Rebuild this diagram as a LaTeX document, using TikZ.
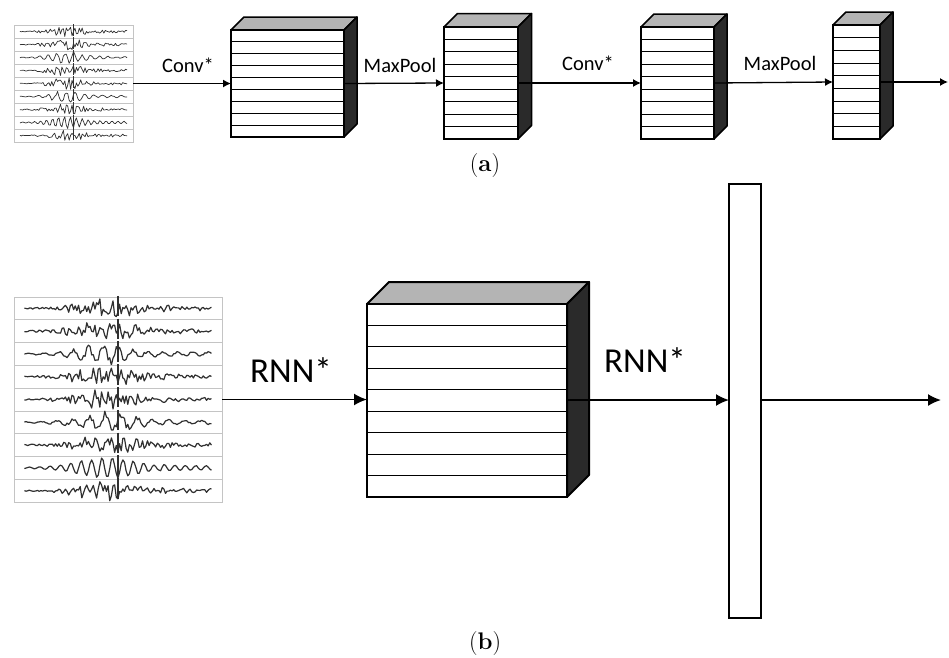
\documentclass[tikz,border=0pt]{standalone}
\usepackage{fontspec}
\newfontfamily\lblfont{Carlito}
\usetikzlibrary{arrows.meta}
\definecolor{topgray}{HTML}{B4B4B4}
\definecolor{sidegray}{HTML}{2A2A2A}
\definecolor{framegray}{HTML}{C4C4C4}
\definecolor{sigcol}{HTML}{303030}
\tikzset{
  lbl/.style={font=\lblfont\fontsize{20.5}{23}\selectfont, inner sep=0},
  biglbl/.style={font=\lblfont\fontsize{35}{40}\selectfont, inner sep=0},
  captext/.style={font=\fontsize{24}{28}\selectfont, inner sep=0},
  conn/.style={line width=1.3pt, -{Latex[length=8pt,width=8pt]}},
  bigconn/.style={line width=1.8pt, -{Latex[length=13pt,width=12pt]}},
}
% layer box: name, x1, y1, x2, y2, depth, outline width
\newcommand\layerbox[7]{%
  \pgfmathsetmacro\lbw{#4-#2}\pgfmathsetmacro\lbh{#5-#3}%
  \fill[topgray,draw=black,line width=#7,line join=round] (#2,#3) -- ({#2+#6},{#3-#6}) -- ({#4+#6},{#3-#6}) -- (#4,#3) -- cycle;
  \fill[sidegray,draw=black,line width=#7,line join=round] (#4,#3) -- ({#4+#6},{#3-#6}) -- ({#4+#6},{#5-#6}) -- (#4,#5) -- cycle;
  \node[draw, fill=white, line width=#7, minimum width=\lbw pt, minimum height=\lbh pt, inner sep=0, outer sep=0, anchor=north west] (#1) at (#2,#3) {};
  \foreach \k in {1,...,8} {
    \draw[line width=0.9pt] (#2,{#3+\k*(#5-#3)/9}) -- (#4,{#3+\k*(#5-#3)/9});
  }
}
% signal panel: name, x0, y0, w, h, line width, samples
\newcommand\sigpanel[7]{%
  \node[draw=framegray, line width=0.7pt, minimum width=#4pt, minimum height=#5pt, inner sep=0, outer sep=0, anchor=north west] (#1) at (#2,#3) {};
  \foreach \r/\fr/\rw in {0/30/0.7,1/26/0.8,2/14/0.35,3/34/0.85,4/28/0.75,5/13/0.35,6/40/0.85,7/20/0.1,8/30/0.6} {
    \pgfmathsetmacro\yc{#3+(\r+0.5)*#5/9}
    \pgfmathsetmacro\amp{0.5*#5/9}
    \ifnum\r>0 \draw[framegray, line width=0.7pt] (#2,{#3+\r*#5/9}) -- ({#2+#4},{#3+\r*#5/9}); \fi
    \draw[sigcol, line width=#6, line join=round] plot[domain=0.05:0.95, samples=#7]
      ({#2+\x*#4}, {\yc - \amp*(0.06+0.94*exp(-((\x-0.45)/0.19)^2)+0.15*(\x>0.7))*((1-\rw)*sin(\fr*\x*360+\r*40)+\rw*rand)});
    \draw[sigcol, line width=#6] ({#2+0.5*#4},{\yc-0.55*#5/9}) -- ({#2+0.5*#4},{\yc+0.35*#5/9});
  }
}
\begin{document}
\begin{tikzpicture}[x=1pt,y=-1pt]
\pgfmathsetseed{11}
\useasboundingbox (0,0) rectangle (949,657);
% ---------- (a) ----------
\sigpanel{sa}{14}{25}{119}{117}{0.7pt}{75}
\layerbox{a1}{231}{30}{344}{137}{13}{1.5pt}
\layerbox{a2}{444}{27}{518}{139}{13.5}{1.5pt}
\layerbox{a3}{641}{27}{714}{139}{13}{1.5pt}
\layerbox{a4}{833}{25}{880}{139}{13}{1.5pt}
\coordinate (aend) at (948,82);
\draw[conn] (sa.east) -- (a1.west);
\draw[conn] (a1.east) -- (a2.west);
\draw[conn] (a2.east) -- (a3.west);
\draw[conn] (a3.east) -- (a4.west);
\draw[conn] (a4.east) -- (aend);
\node[lbl] (l1) at (188,65) {Conv*};
\node[lbl] (l2) at (400,65) {MaxPool};
\node[lbl] (l3) at (588,63) {Conv*};
\node[lbl] (l4) at (780,63) {MaxPool};
\node[captext] (capa) at (485,166) {(\textbf{a})};
% ---------- (b) ----------
\sigpanel{sb}{14}{297}{208}{205}{1.2pt}{115}
\layerbox{bb}{367}{304}{567}{497}{22}{2pt}
\node[draw, line width=2.5pt, fill=white, minimum width=32pt, minimum height=434pt, inner sep=0, outer sep=0, anchor=north west] (fc) at (729,184) {};
\coordinate (bend) at (941,400);
\draw[bigconn] (sb.east) -- (sb.east -| bb.west);
\draw[bigconn] (bb.east |- 0,400) -- (fc.west |- 0,400);
\draw[bigconn] (fc.east |- 0,400) -- (bend);
\node[biglbl] (r1) at (291,370) {RNN*};
\node[biglbl] (r2) at (645,360) {RNN*};
\node[captext] (capb) at (485,643) {(\textbf{b})};
\end{tikzpicture}
\end{document}
